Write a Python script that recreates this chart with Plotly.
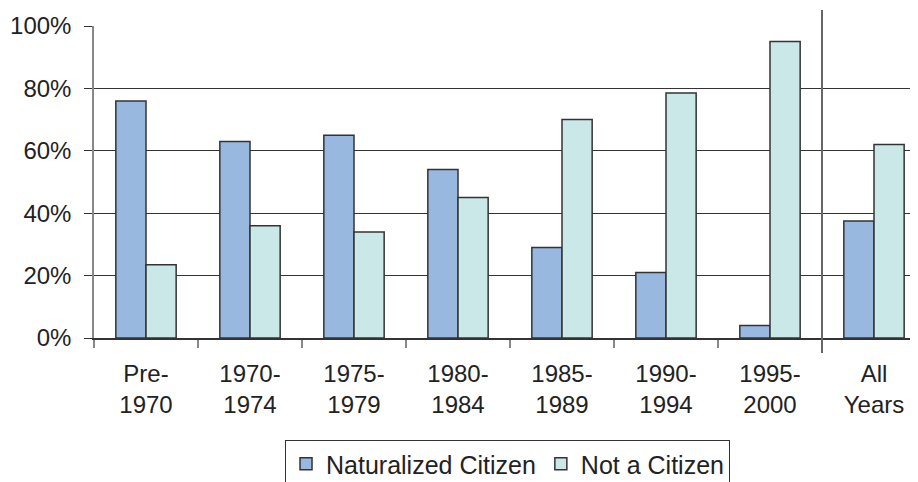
import plotly.graph_objects as go

categories = ["Pre-<br>1970", "1970-<br>1974", "1975-<br>1979", "1980-<br>1984",
              "1985-<br>1989", "1990-<br>1994", "1995-<br>2000", "All<br>Years"]
naturalized = [76, 63, 65, 54, 29, 21, 4, 37.5]
not_citizen = [23.5, 36, 34, 45, 70, 78.5, 95, 62]
y_ticks = [0, 20, 40, 60, 80, 100]
y_tick_labels = ["0%", "20%", "40%", "60%", "80%", "100%"]
title_text = "Citizenship Status by Year of<br>Immigration, Sending Country, 2000"

FONT = "Liberation Sans, Arial, sans-serif"

fig = go.Figure()
fig.add_trace(go.Bar(name="Naturalized Citizen", x=categories, y=naturalized,
                     marker=dict(color="#98B8E0", line=dict(color="#333333", width=1.5))))
fig.add_trace(go.Bar(name="Not a Citizen", x=categories, y=not_citizen,
                     marker=dict(color="#CBE8E8", line=dict(color="#333333", width=1.5))))

# the page body adds an 8px offset; margins compensate so the plot lands where the reference has it
fig.update_layout(
    width=918, height=482,
    margin=dict(l=86, r=0, t=18, b=152, autoexpand=False),
    paper_bgcolor="white", plot_bgcolor="white",
    barmode="group", bargap=0.42, bargroupgap=0,
    font=dict(family=FONT, size=24, color="#222222"),
    showlegend=True,
    legend=dict(orientation="h", x=0.2296, xanchor="left", y=-0.327, yanchor="top",
                bordercolor="#333333", borderwidth=1, bgcolor="white",
                font=dict(size=25, family=FONT, color="#222222"),
                itemclick=False),
)

fig.update_xaxes(
    type="category", range=[-0.5, 7.5], automargin=False,
    showline=True, linecolor="#333333", linewidth=1.5,
    ticks="outside", tickson="boundaries", ticklen=8, tickcolor="#888888", tickwidth=1.5,
    showgrid=False, tickfont=dict(size=24, family=FONT, color="#222222"),
    ticklabelstandoff=13,
)
fig.update_yaxes(
    range=[0, 100], tickvals=y_ticks, ticktext=y_tick_labels, automargin=False,
    showline=True, linecolor="#888888", linewidth=1.5,
    ticks="outside", ticklen=8, tickcolor="#333333", tickwidth=1,
    showgrid=True, gridcolor="#333333", gridwidth=1,
    zeroline=False, tickfont=dict(size=24, family=FONT, color="#222222"),
    ticklabelstandoff=8,
)

# separator between the yearly groups and the "All Years" group
fig.add_shape(type="line", xref="x", yref="paper", x0=6.5, x1=6.5,
              y0=-0.048, y1=1.051, line=dict(color="#666666", width=2))

# title, mostly cut off at the top of the picture
fig.add_annotation(text=title_text, xref="paper", yref="paper", x=(454 - 86) / 832, y=1,
                   xanchor="center", yanchor="bottom", yshift=17, showarrow=False,
                   font=dict(size=24, family=FONT, color="#222222", weight="bold"))

fig.write_html("out.html")
